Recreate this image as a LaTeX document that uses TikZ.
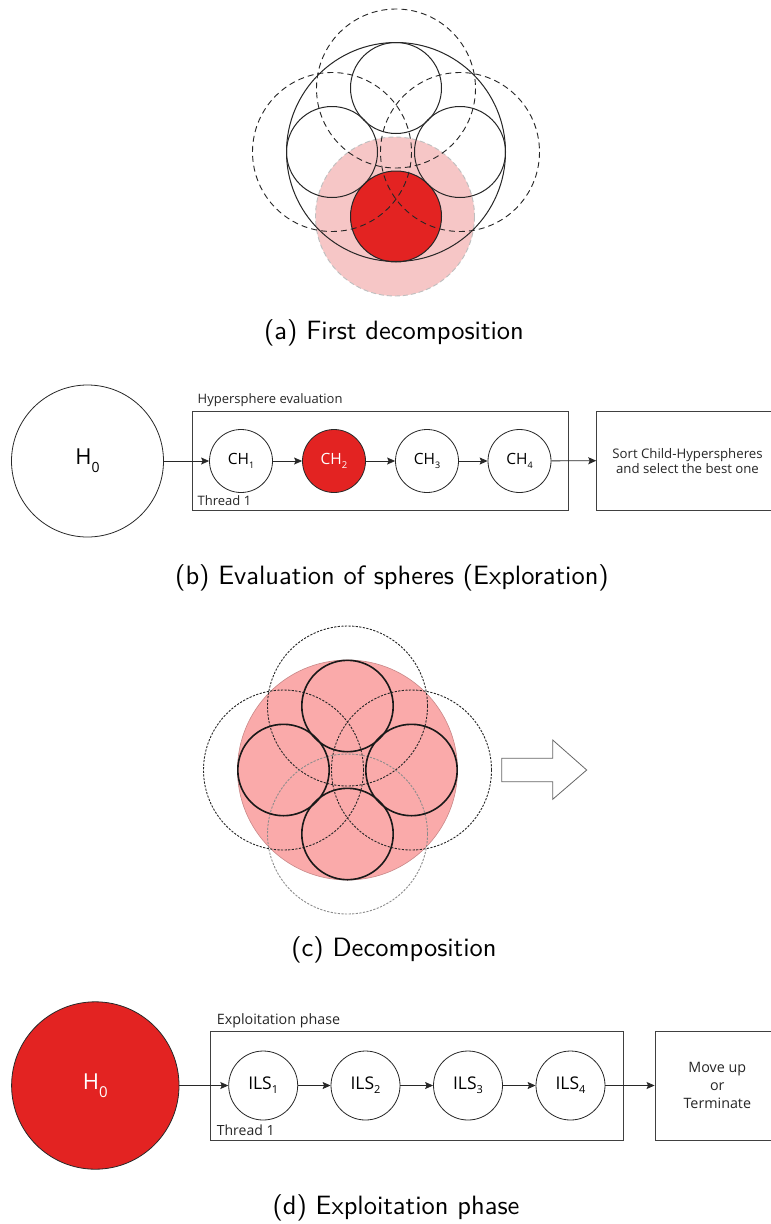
\documentclass[tikz,border=0pt]{standalone}
\usepackage{fontspec}
\newfontfamily\os{Open Sans}
\newfontfamily\capf{lmsans10-regular.otf}
\usetikzlibrary{arrows.meta}
\definecolor{hred}{RGB}{227,35,34}
\definecolor{apink}{RGB}{246,198,198}
\definecolor{cpink}{RGB}{250,170,170}
\definecolor{lnc}{RGB}{40,40,40}
\newcommand\subs[3]{\raisebox{-#2}{\fontsize{#1}{#1}\selectfont #3}}
\tikzset{
  captxt/.style={font=\capf\fontsize{26.5}{30}\selectfont, anchor=base},
  adash/.style={draw=black!85, line width=0.9pt, dash pattern=on 6pt off 4pt},
  asolid/.style={draw=black!85, line width=1pt},
  cdash/.style={draw=black!85, line width=0.9pt, dash pattern=on 2.2pt off 1.4pt},
  csolid/.style={draw=black!90, line width=1.6pt},
  bigh/.style={circle, draw=lnc, line width=0.8pt, inner sep=0pt, font=\os\fontsize{22}{22}\selectfont},
  chn/.style={circle, draw=lnc, line width=0.8pt, minimum size=63pt, inner sep=0pt, font=\os\fontsize{15.5}{15.5}\selectfont},
  ilsn/.style={circle, draw=lnc, line width=0.8pt, minimum size=69pt, inner sep=0pt, font=\os\fontsize{17.5}{17.5}\selectfont},
  framebox/.style={draw=black!75, line width=0.9pt},
  lab/.style={anchor=base west, inner sep=0pt, text=black!85},
  arr/.style={draw=lnc, line width=0.8pt, -{Stealth[length=8pt, width=7pt, inset=1.5pt]}},
  txtbox/.style={rectangle, draw=black!75, line width=0.9pt, align=center, inner sep=0pt, text=black!85}
}
\begin{document}
\begin{tikzpicture}[x=1pt, y=-1pt]
\useasboundingbox[fill=white] (0,0) rectangle (771,1224);

% ---------------- (a) ----------------
\fill[apink] (395,216.5) circle (79.5);
\draw[draw=black!25, line width=0.9pt, dash pattern=on 5pt off 3pt] (395,216.5) circle (79.5);
\fill[hred] (396,216.5) circle (45.5);
\draw[adash] (396,88.5) circle (79.5);
\draw[adash] (332,152) circle (79.5);
\draw[adash] (460,152) circle (79.5);
\draw[asolid] (396,152) circle (109.5);
\draw[asolid] (396,88) circle (45.5);
\draw[asolid] (332,152) circle (45.5);
\draw[asolid] (460,152) circle (45.5);
\draw[asolid] (396,216.5) circle (45.5);
\node[captxt] (capa) at (394,339.5) {(a) First decomposition};

% ---------------- (b) ----------------
\node[bigh, minimum size=152pt] (h0b) at (87.5,461) {H\subs{14}{8pt}{0}};
\draw[framebox] (192.3,411) rectangle (568.3,510.3);
\node[lab, font=\os\fontsize{13}{13}\selectfont] (hyplab) at (197.5,403.5) {Hypersphere evaluation};
\node[lab, font=\os\fontsize{13}{13}\selectfont] (thb) at (197.5,505) {Thread 1};
\node[chn] (ch1) at (241,461) {CH\subs{9}{4.5pt}{1}};
\node[chn, fill=hred, text=white] (ch2) at (334,461) {CH\subs{9.5}{4.5pt}{2}};
\node[chn] (ch3) at (427,461) {CH\subs{9}{4.5pt}{3}};
\node[chn] (ch4) at (519.5,461) {CH\subs{9}{4.5pt}{4}};
\node[txtbox, minimum width=181.6pt, minimum height=99.3pt, font=\os\fontsize{13.2}{16}\selectfont] (sort) at (687.5,460.7) {Sort Child-Hyperspheres\\[-1pt]and select the best one};
\draw[arr] (h0b) -- (ch1);
\draw[arr] (ch1) -- (ch2);
\draw[arr] (ch2) -- (ch3);
\draw[arr] (ch3) -- (ch4);
\draw[arr] (ch4) -- (sort.west);
\node[captxt] (capb) at (392,584.3) {(b) Evaluation of spheres (Exploration)};

% ---------------- (c) ----------------
\filldraw[fill=cpink, draw=cpink!80!black, line width=0.6pt] (347.5,770) circle (110);
\draw[cdash] (347.5,706) circle (80);
\draw[cdash] (283.5,770) circle (80);
\draw[cdash] (411.5,770) circle (80);
\draw[cdash, draw=black!45] (347.5,834) circle (80);
\draw[csolid] (347.5,706) circle (45.7);
\draw[csolid] (283.5,770) circle (45.7);
\draw[csolid] (411.5,770) circle (45.7);
\draw[csolid] (347.5,834) circle (45.7);
\draw[draw=black!60, line width=0.8pt, fill=white] (501.7,758.3) -- (552.7,758.3) -- (552.7,740) -- (586.7,770) -- (552.7,799.3) -- (552.7,781.7) -- (501.7,781.7) -- cycle;
\node[captxt] (capc) at (394,956.5) {(c) Decomposition};

% ---------------- (d) ----------------
\node[bigh, minimum size=167.4pt, fill=hred, text=white] (h0d) at (95.3,1085.5) {H\subs{15}{8.5pt}{0}};
\draw[framebox] (210.7,1031) rectangle (623.3,1140);
\node[lab, font=\os\fontsize{14.3}{14.3}\selectfont] (explab) at (216.7,1024) {Exploitation phase};
\node[lab, font=\os\fontsize{14}{14}\selectfont] (thd) at (216.7,1135) {Thread 1};
\node[ilsn] (ils1) at (263.2,1085.5) {ILS\subs{11}{4pt}{1}};
\node[ilsn] (ils2) at (365.5,1085.5) {ILS\subs{11}{4pt}{2}};
\node[ilsn] (ils3) at (468,1085.5) {ILS\subs{11}{4pt}{3}};
\node[ilsn] (ils4) at (570.5,1085.5) {ILS\subs{11}{4pt}{4}};
\node[txtbox, minimum width=124.6pt, minimum height=109pt, font=\os\fontsize{14.3}{17.6}\selectfont] (move) at (717.3,1085.5) {Move up\\or\\Terminate};
\draw[arr] (h0d) -- (ils1);
\draw[arr] (ils1) -- (ils2);
\draw[arr] (ils2) -- (ils3);
\draw[arr] (ils3) -- (ils4);
\draw[arr] (ils4) -- (move.west);
\node[captxt] (capd) at (396,1214.5) {(d) Exploitation phase};
\end{tikzpicture}
\end{document}
